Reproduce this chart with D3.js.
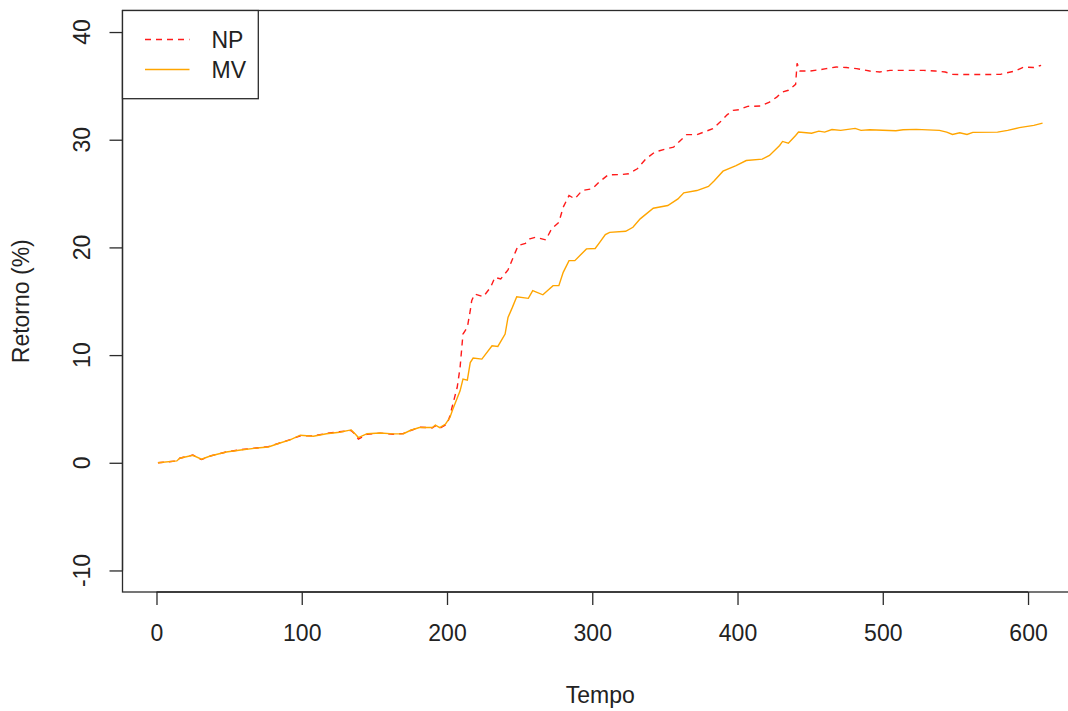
<!DOCTYPE html>
<html>
<head>
<meta charset="utf-8">
<script src="https://cdnjs.cloudflare.com/ajax/libs/d3/7.8.5/d3.min.js"></script>
<style>
  body { margin: 0; background: #fff; }
  text { font-family: "Liberation Sans", Arial, sans-serif; fill: #222; }
</style>
</head>
<body>
<svg id="chart" width="1068" height="711"></svg>
<script>
// values (tempo, retorno %)
const npTempo = [1, 14, 16, 25, 31, 37, 48, 58, 71, 77, 85, 92, 99, 108, 117, 126, 134, 137, 139, 145,
  154, 163, 170, 175, 181, 190, 192, 195, 200, 202, 204, 207, 209, 211, 214, 216, 217, 219, 225, 230,
  233, 237, 242, 247, 249, 254, 257, 261, 268, 272, 277, 280, 284, 288, 293, 300, 305, 311, 320, 325,
  331, 337, 343, 351, 356, 360, 365, 372, 378, 383, 388, 393, 397, 401, 407, 416, 422, 427, 431, 435,
  440, 441, 443, 450, 457, 461, 468, 475, 482, 491, 498, 505, 516, 528, 536, 543, 548, 558, 571, 581,
  585, 591, 597, 604, 609];
const npRetorno = [0.0, 0.17, 0.42, 0.72, 0.3, 0.63, 1.0, 1.22, 1.4, 1.5, 1.84, 2.15, 2.5, 2.5, 2.72, 2.88, 3.0, 2.6, 2.2, 2.65,
  2.75, 2.65, 2.72, 3.0, 3.3, 3.25, 3.45, 3.2, 3.58, 4.35, 5.44, 6.99, 8.85, 11.95, 12.57, 14.12, 15.05, 15.67, 15.42, 16.29,
  17.22, 17.07, 17.91, 19.54, 20.17, 20.38, 20.79, 20.94, 20.7, 21.72, 22.33, 23.73, 24.82, 24.51, 25.28, 25.44, 26.1, 26.74, 26.77, 26.84,
  27.3, 28.23, 28.85, 29.16, 29.31, 29.84, 30.47, 30.47, 30.77, 31.02, 31.64, 32.33, 32.73, 32.79, 33.1, 33.13, 33.5, 33.96, 34.43, 34.59,
  35.14, 37.1, 36.38, 36.38, 36.51, 36.6, 36.75, 36.7, 36.6, 36.38, 36.29, 36.44, 36.44, 36.44, 36.38, 36.29, 36.07, 36.05, 36.05, 36.07,
  36.2, 36.38, 36.75, 36.7, 36.91];

const mvTempo = [1, 14, 16, 25, 31, 37, 48, 58, 71, 77, 85, 92, 99, 108, 117, 126, 134, 137, 139, 145,
  154, 163, 170, 175, 181, 190, 192, 195, 199, 202, 204, 209, 211, 214, 216, 218, 224, 231, 235, 240,
  242, 245, 248, 256, 259, 266, 273, 277, 280, 284, 288, 296, 302, 305, 309, 312, 323, 328, 333, 342,
  352, 359, 363, 372, 380, 384, 390, 399, 406, 417, 422, 429, 431, 435, 440, 442, 451, 456, 460, 465,
  471, 481, 485, 491, 509, 514, 523, 539, 544, 548, 553, 558, 562, 579, 586, 594, 604, 610];
const mvRetorno = [0.0, 0.17, 0.42, 0.7, 0.33, 0.63, 1.0, 1.19, 1.4, 1.47, 1.84, 2.12, 2.56, 2.46, 2.7, 2.84, 3.05, 2.65, 2.34, 2.7,
  2.77, 2.68, 2.7, 3.02, 3.27, 3.27, 3.5, 3.27, 3.6, 4.2, 4.98, 6.68, 7.77, 7.67, 9.31, 9.72, 9.63, 10.87, 10.8, 11.95,
  13.5, 14.43, 15.42, 15.27, 15.98, 15.6, 16.45, 16.45, 17.68, 18.77, 18.77, 19.86, 19.9, 20.45, 21.19, 21.4, 21.5, 21.87, 22.65, 23.64,
  23.89, 24.5, 25.07, 25.28, 25.66, 26.2, 27.08, 27.6, 28.07, 28.2, 28.54, 29.47, 29.84, 29.68, 30.4, 30.71, 30.6, 30.8, 30.71, 30.95,
  30.87, 31.05, 30.87, 30.93, 30.84, 30.93, 30.96, 30.87, 30.71, 30.49, 30.65, 30.49, 30.68, 30.71, 30.87, 31.12, 31.33, 31.54];

const xTicks = [0, 100, 200, 300, 400, 500, 600];
const yTicks = [-10, 0, 10, 20, 30, 40];
const legendLabels = ["NP", "MV"];

const svg = d3.select("#chart");
const plot = {left: 122.5, right: 1078, top: 10.5, bottom: 592};

const x = d3.scaleLinear().domain([-23.4, 634.4]).range([plot.left, plot.right]);
const y = d3.scaleLinear().domain([-12, 42]).range([plot.bottom, plot.top]);

const ink = "#2b2b2b";

// series
const line = d3.line().x(d => x(d[0])).y(d => y(d[1]));
const np = d3.zip(npTempo, npRetorno);
const mv = d3.zip(mvTempo, mvRetorno);

svg.append("path").datum(np)
  .attr("d", line).attr("fill", "none")
  .attr("stroke", "#ff1a1a").attr("stroke-width", 1.4)
  .attr("stroke-dasharray", "6,5");

svg.append("path").datum(mv)
  .attr("d", line).attr("fill", "none")
  .attr("stroke", "#ffa500").attr("stroke-width", 1.4);

// box
svg.append("rect")
  .attr("x", plot.left).attr("y", plot.top)
  .attr("width", plot.right - plot.left).attr("height", plot.bottom - plot.top)
  .attr("fill", "none").attr("stroke", ink).attr("stroke-width", 1.3);

// x axis
const xAxis = svg.append("g").attr("transform", `translate(0,${plot.bottom})`)
  .call(d3.axisBottom(x).tickValues(xTicks).tickSize(13).tickSizeOuter(0).tickPadding(20));
xAxis.select(".domain").attr("stroke", ink).attr("stroke-width", 1.3)
  .attr("d", `M${x(0)},0H${x(600)}`);
xAxis.selectAll(".tick line").attr("stroke", ink).attr("stroke-width", 1.3);
xAxis.selectAll(".tick text").attr("font-size", 23)
  .attr("font-family", "Liberation Sans, Arial, sans-serif").attr("fill", "#222");

// y axis
const yAxis = svg.append("g").attr("transform", `translate(${plot.left},0)`)
  .call(d3.axisLeft(y).tickValues(yTicks).tickSize(13).tickSizeOuter(0).tickFormat(""));
yAxis.select(".domain").attr("stroke", ink).attr("stroke-width", 1.3)
  .attr("d", `M0,${y(-10)}V${y(40)}`);
yAxis.selectAll(".tick line").attr("stroke", ink).attr("stroke-width", 1.3);

svg.append("g").selectAll("text").data(yTicks).join("text")
  .attr("transform", d => `translate(90,${y(d)}) rotate(-90)`)
  .attr("text-anchor", "middle").attr("font-size", 23)
  .text(d => d);

// axis titles
svg.append("text").attr("x", (plot.left + plot.right) / 2).attr("y", 703)
  .attr("text-anchor", "middle").attr("font-size", 23).text("Tempo");
svg.append("text")
  .attr("transform", `translate(29,${(plot.top + plot.bottom) / 2}) rotate(-90)`)
  .attr("text-anchor", "middle").attr("font-size", 23).text("Retorno (%)");

// legend
const legend = svg.append("g");
legend.append("rect").attr("x", plot.left).attr("y", plot.top)
  .attr("width", 258.3 - plot.left).attr("height", 98.7 - plot.top)
  .attr("fill", "#fff").attr("stroke", ink).attr("stroke-width", 1.3);
const legendColors = ["#ff1a1a", "#ffa500"];
const legendDash = ["6,5", null];
const legendY = d3.scalePoint().domain(legendLabels).range([39.5, 69.5]);
legendLabels.forEach((lab, i) => {
  legend.append("line")
    .attr("x1", 145).attr("x2", 189.5)
    .attr("y1", legendY(lab)).attr("y2", legendY(lab))
    .attr("stroke", legendColors[i]).attr("stroke-width", 1.4)
    .attr("stroke-dasharray", legendDash[i]);
  legend.append("text").attr("x", 211.5).attr("y", legendY(lab) + 8.3)
    .attr("font-size", 23).text(lab);
});
</script>
</body>
</html>
